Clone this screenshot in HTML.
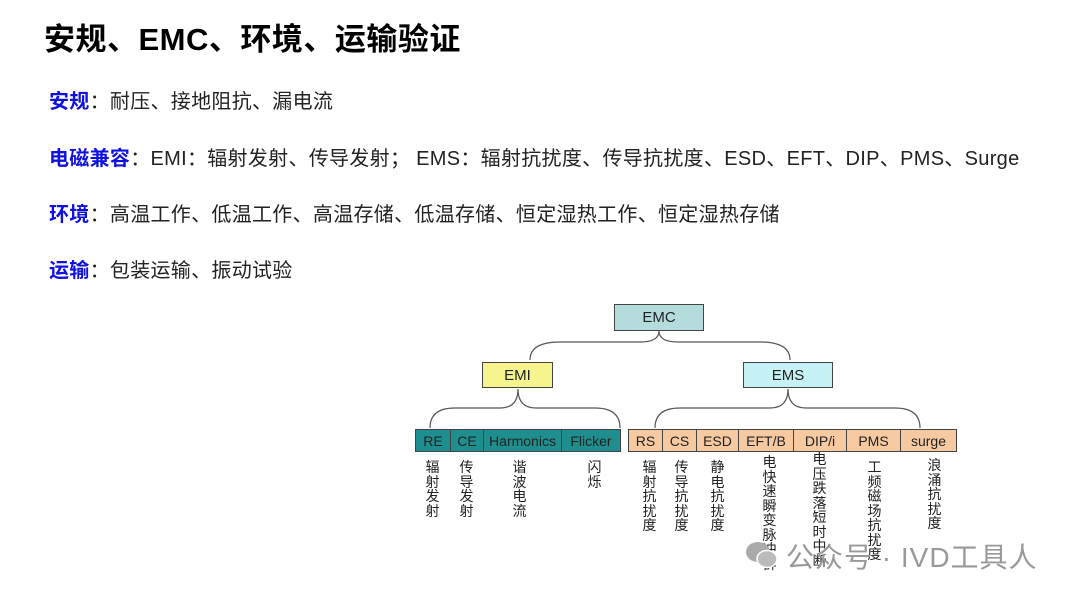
<!DOCTYPE html>
<html><head><meta charset="utf-8"><style>
body{margin:0;width:1080px;height:600px;background:#fff;position:relative;overflow:hidden;font-family:"Liberation Sans","Noto Sans CJK SC",sans-serif}
.t{position:absolute;left:44px;top:14px;font-size:31px;font-weight:bold;color:#000;white-space:nowrap;letter-spacing:0.5px}
.l{position:absolute;left:49px;font-size:20px;color:#222;white-space:nowrap;letter-spacing:0.3px}
.l b{color:#1010e0}
.b{position:absolute;box-sizing:border-box;border:1px solid #444;display:flex;align-items:center;justify-content:center;font-size:14px;color:#222}
.v{position:absolute;top:460px;width:15px;font-size:14px;line-height:14.5px;color:#222;text-align:center}
.wm{position:absolute;left:786px;top:536px;font-size:28px;color:#999;white-space:nowrap;letter-spacing:1px}
</style></head><body>
<div class="t">安规、EMC、环境、运输验证</div>
<div class="l" style="top:85px"><b>安规</b>：耐压、接地阻抗、漏电流</div>
<div class="l" style="top:142px"><b>电磁兼容</b>：EMI：辐射发射、传导发射；&nbsp;EMS：辐射抗扰度、传导抗扰度、ESD、EFT、DIP、PMS、Surge</div>
<div class="l" style="top:198px"><b>环境</b>：高温工作、低温工作、高温存储、低温存储、恒定湿热工作、恒定湿热存储</div>
<div class="l" style="top:254px"><b>运输</b>：包装运输、振动试验</div>

<svg style="position:absolute;left:0;top:0" width="1080" height="600" fill="none" stroke="#555" stroke-width="1.2">
<path d="M530,360 Q530,342 560,342 L640,342 Q659,342 659,331 Q659,342 678,342 L760,342 Q790,342 790,360"/>
<path d="M430,428 Q430,408 455,408 L500,408 Q518,408 518,389 Q518,408 536,408 L595,408 Q620,408 620,428"/>
<path d="M655,428 Q655,408 680,408 L770,408 Q788,408 788,389 Q788,408 806,408 L895,408 Q920,408 920,428"/>
</svg>

<div class="b" style="left:614px;top:304px;width:90px;height:27px;background:#b5dcdc;font-size:15px">EMC</div>
<div class="b" style="left:482px;top:362px;width:71px;height:26px;background:#f6f48c;font-size:15px">EMI</div>
<div class="b" style="left:743px;top:362px;width:90px;height:26px;background:#c6f2f6;font-size:15px">EMS</div>

<div class="b" style="left:415px;top:429px;width:36px;height:23px;background:#1e8e8e">RE</div>
<div class="b" style="left:450px;top:429px;width:34px;height:23px;background:#1e8e8e">CE</div>
<div class="b" style="left:483px;top:429px;width:79px;height:23px;background:#1e8e8e">Harmonics</div>
<div class="b" style="left:561px;top:429px;width:60px;height:23px;background:#1e8e8e">Flicker</div>

<div class="b" style="left:628px;top:429px;width:35px;height:23px;background:#f6c9a0">RS</div>
<div class="b" style="left:662px;top:429px;width:35px;height:23px;background:#f6c9a0">CS</div>
<div class="b" style="left:696px;top:429px;width:43px;height:23px;background:#f6c9a0">ESD</div>
<div class="b" style="left:738px;top:429px;width:56px;height:23px;background:#f6c9a0">EFT/B</div>
<div class="b" style="left:793px;top:429px;width:54px;height:23px;background:#f6c9a0">DIP/i</div>
<div class="b" style="left:846px;top:429px;width:55px;height:23px;background:#f6c9a0">PMS</div>
<div class="b" style="left:900px;top:429px;width:57px;height:23px;background:#f6c9a0">surge</div>

<div class="v" style="left:425px">辐射发射</div>
<div class="v" style="left:459px">传导发射</div>
<div class="v" style="left:512px">谐波电流</div>
<div class="v" style="left:587px">闪烁</div>
<div class="v" style="left:642px">辐射抗扰度</div>
<div class="v" style="left:674px">传导抗扰度</div>
<div class="v" style="left:710px">静电抗扰度</div>
<div class="v" style="left:762px;top:455px">电快速瞬变脉冲群</div>
<div class="v" style="left:812px;top:452px">电压跌落短时中断</div>
<div class="v" style="left:867px">工频磁场抗扰度</div>
<div class="v" style="left:927px;top:458px">浪涌抗扰度</div>

<svg style="position:absolute;left:744px;top:539px" width="36" height="32"><ellipse cx="14" cy="13" rx="12" ry="10" fill="#aaa"/><ellipse cx="23" cy="20" rx="10" ry="8.5" fill="#bbb" stroke="#fff" stroke-width="1.5"/></svg>
<div class="wm">公众号 · IVD工具人</div>
</body></html>
